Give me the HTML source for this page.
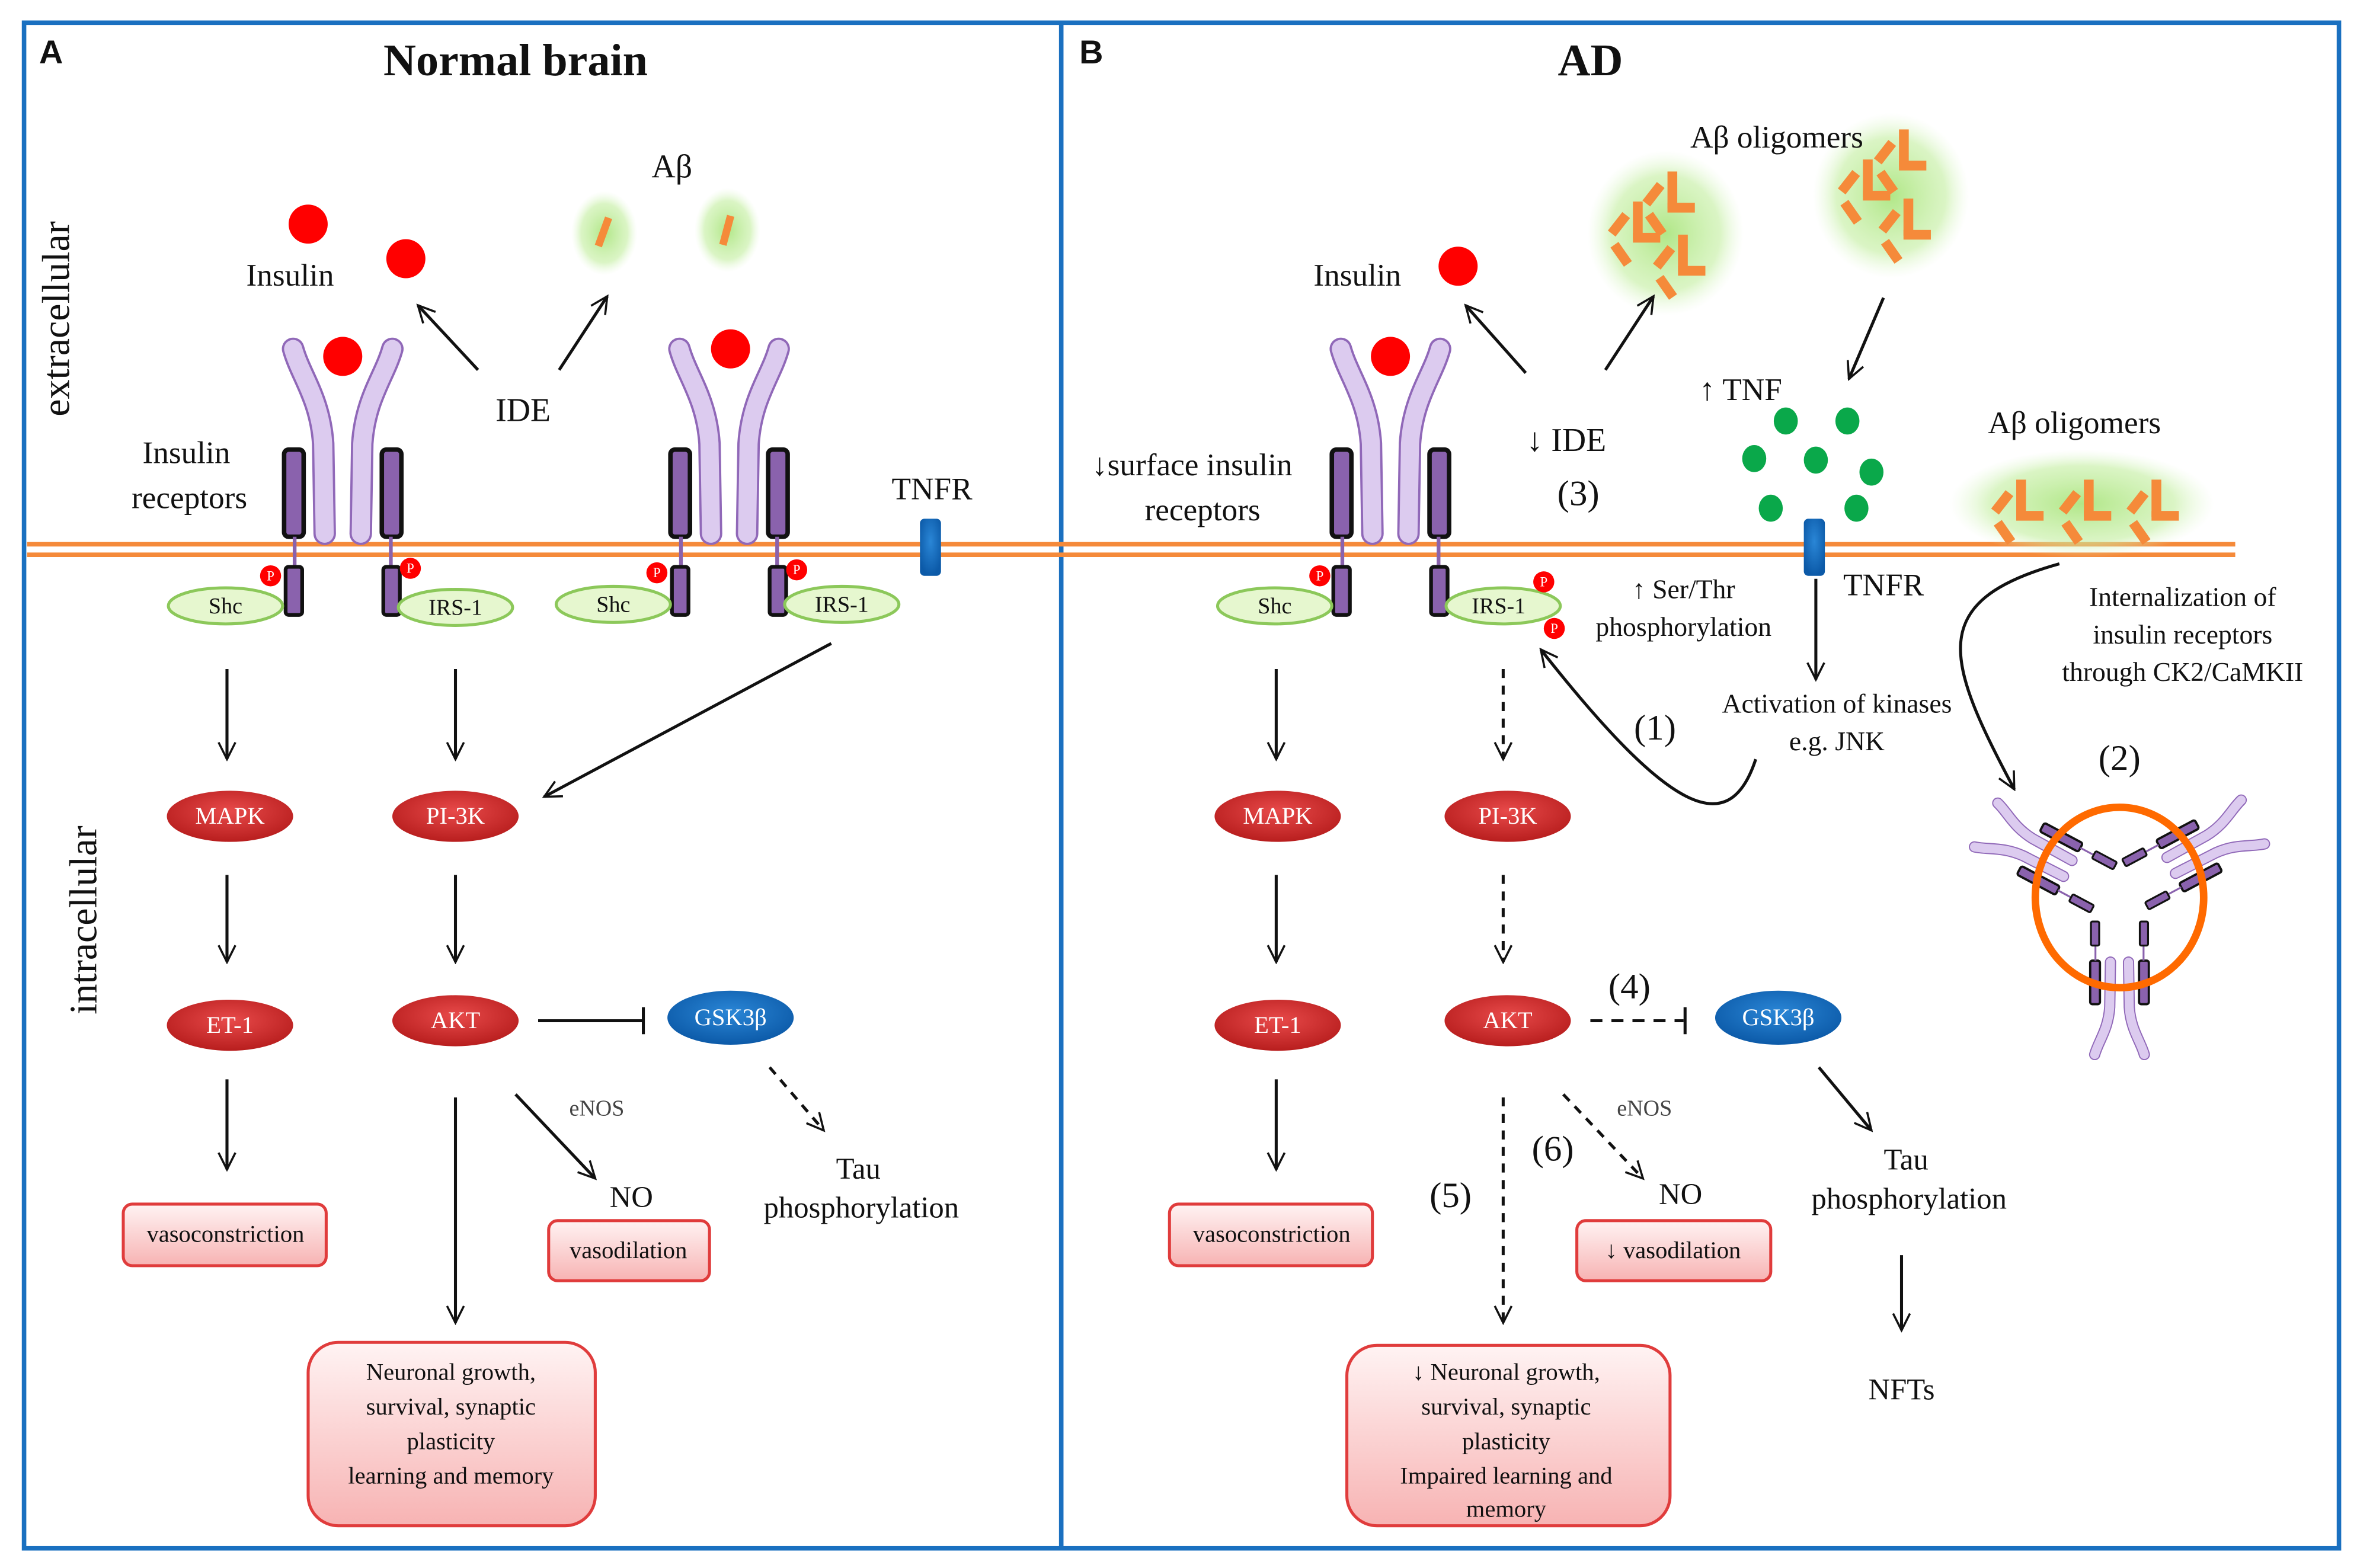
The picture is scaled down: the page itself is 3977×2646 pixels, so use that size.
<!DOCTYPE html>
<html><head><meta charset="utf-8"><style>
html,body{margin:0;padding:0;background:#fff;}
svg{display:block;}
text{font-family:"Liberation Serif","Times New Roman",serif;fill:#111;}
</style></head><body>
<svg width="3977" height="2646" viewBox="0 0 1568 1043" xmlns="http://www.w3.org/2000/svg" font-family="Liberation Serif, serif">
<defs>
<marker id="ah" viewBox="0 0 20 20" refX="18" refY="10" markerWidth="14" markerHeight="14" markerUnits="userSpaceOnUse" orient="auto">
<polyline points="2,2 18,10 2,18" fill="none" stroke="#111" stroke-width="2"/>
</marker>
<radialGradient id="redg" cx="50%" cy="40%" r="60%"><stop offset="0" stop-color="#e84a4a"/><stop offset="1" stop-color="#b81e1e"/></radialGradient>
<radialGradient id="blueg" cx="50%" cy="40%" r="60%"><stop offset="0" stop-color="#2a86d6"/><stop offset="1" stop-color="#0c5aa8"/></radialGradient>
<linearGradient id="boxg" x1="0" y1="0" x2="0" y2="1"><stop offset="0" stop-color="#fff3f3"/><stop offset="1" stop-color="#f7b3b3"/></linearGradient>
<radialGradient id="glow" cx="50%" cy="50%" r="50%"><stop offset="0" stop-color="#a8e47a" stop-opacity="0.9"/><stop offset="0.7" stop-color="#c2ee9e" stop-opacity="0.6"/><stop offset="1" stop-color="#e0f7cf" stop-opacity="0"/></radialGradient>
<g id="rec">
<path d="M-12,-10 L-13,-70 C-15,-100 -28,-115 -33,-133" fill="none" stroke="#9068b8" stroke-width="15" stroke-linecap="round"/>
<path d="M-12,-10 L-13,-70 C-15,-100 -28,-115 -33,-133" fill="none" stroke="#dccbef" stroke-width="12" stroke-linecap="round"/>
<path d="M12,-10 L13,-70 C15,-100 28,-115 33,-133" fill="none" stroke="#9068b8" stroke-width="15" stroke-linecap="round"/>
<path d="M12,-10 L13,-70 C15,-100 28,-115 33,-133" fill="none" stroke="#dccbef" stroke-width="12" stroke-linecap="round"/>
<rect x="-39" y="-66" width="13" height="58" rx="3" fill="#8a62ad" stroke="#111" stroke-width="3"/>
<rect x="26" y="-66" width="13" height="58" rx="3" fill="#8a62ad" stroke="#111" stroke-width="3"/>
<line x1="-32" y1="-8" x2="-32" y2="14" stroke="#8a62ad" stroke-width="2.5"/>
<line x1="32" y1="-8" x2="32" y2="14" stroke="#8a62ad" stroke-width="2.5"/>
<rect x="-38" y="12" width="11" height="32" rx="2" fill="#8a62ad" stroke="#111" stroke-width="2.5"/>
<rect x="27" y="12" width="11" height="32" rx="2" fill="#8a62ad" stroke="#111" stroke-width="2.5"/>
</g>
<g id="olig0" fill="#f58a3a">
<rect x="-2.5" y="-9" width="5" height="12" transform="translate(-8,-6) rotate(38)"/>
<rect x="-2.5" y="-6" width="5" height="12" transform="translate(-5,7) rotate(-35)"/>
<rect x="1" y="-20" width="5" height="19"/>
<rect x="1" y="-4" width="14" height="5"/>
</g>
<use id="olig" href="#olig0" transform="scale(1.3)"/>
</defs>
<rect x="0" y="0" width="1568" height="1043" fill="#fff"/>
<rect x="16" y="15" width="1540" height="1015" fill="none" stroke="#1a70c0" stroke-width="3"/>
<line x1="706" y1="15" x2="706" y2="1030" stroke="#1a70c0" stroke-width="3"/>

<text x="26" y="42" font-weight="bold" font-size="22" style="font-family:'Liberation Sans',sans-serif">A</text>
<text x="718" y="42" font-weight="bold" font-size="22" style="font-family:'Liberation Sans',sans-serif">B</text>
<text x="343" y="50" font-size="30" font-weight="bold" text-anchor="middle">Normal brain</text>
<text x="1058" y="50" font-size="30" font-weight="bold" text-anchor="middle">AD</text>
<text transform="translate(46,212) rotate(-90)" font-size="26" text-anchor="middle">extracellular</text>
<text transform="translate(64,612) rotate(-90)" font-size="26" text-anchor="middle">intracellular</text>

<line x1="18" y1="362" x2="1487" y2="362" stroke="#f58a3a" stroke-width="3"/>
<line x1="18" y1="369" x2="1487" y2="369" stroke="#f58a3a" stroke-width="3"/>

<use href="#rec" x="228" y="365"/>
<use href="#rec" x="485" y="365"/>
<use href="#rec" x="925" y="365"/>

<g fill="#f00">
<circle cx="205" cy="149" r="13"/><circle cx="270" cy="172" r="13"/>
<circle cx="228" cy="237" r="13"/><circle cx="486" cy="232" r="13"/>
<circle cx="970" cy="177" r="13"/><circle cx="925" cy="237" r="13"/>
</g>
<text x="193" y="190" font-size="21" text-anchor="middle">Insulin</text>
<text x="903" y="190" font-size="21" text-anchor="middle">Insulin</text>
<text x="124" y="308" font-size="21" text-anchor="middle">Insulin</text>
<text x="126" y="338" font-size="21" text-anchor="middle">receptors</text>
<text x="348" y="280" font-size="22" text-anchor="middle">IDE</text>
<text x="447" y="118" font-size="22" text-anchor="middle">Aβ</text>
<ellipse cx="402" cy="155" rx="22" ry="28" fill="url(#glow)"/>
<ellipse cx="484" cy="153" rx="22" ry="28" fill="url(#glow)"/>
<rect x="399" y="144" width="5" height="20" fill="#f58a3a" transform="rotate(20 401 154)"/>
<rect x="481" y="143" width="5" height="20" fill="#f58a3a" transform="rotate(15 483 153)"/>
<line x1="318" y1="246" x2="278" y2="203" stroke="#111" stroke-width="2" marker-end="url(#ah)"/>
<line x1="372" y1="246" x2="404" y2="197" stroke="#111" stroke-width="2" marker-end="url(#ah)"/>

<rect x="612" y="345" width="14" height="38" rx="3" fill="url(#blueg)"/>
<text x="620" y="332" font-size="21" text-anchor="middle">TNFR</text>

<g fill="#e6f7cf" stroke="#8cc85a" stroke-width="2">
<ellipse cx="150" cy="403" rx="38" ry="12"/><ellipse cx="303" cy="404" rx="38" ry="12"/>
<ellipse cx="408" cy="402" rx="38" ry="12"/><ellipse cx="560" cy="402" rx="38" ry="12"/>
<ellipse cx="848" cy="403" rx="38" ry="12"/><ellipse cx="1000" cy="403" rx="38" ry="12"/>
</g>
<g font-size="15" text-anchor="middle">
<text x="150" y="408">Shc</text><text x="303" y="409">IRS-1</text>
<text x="408" y="407">Shc</text><text x="560" y="407">IRS-1</text>
<text x="848" y="408">Shc</text><text x="997" y="408">IRS-1</text>
</g>
<g fill="#f00">
<circle cx="180" cy="383" r="7"/><circle cx="273" cy="378" r="7"/><circle cx="437" cy="381" r="7"/><circle cx="530" cy="379" r="7"/>
<circle cx="878" cy="383" r="7"/><circle cx="1027" cy="387" r="7"/><circle cx="1034" cy="418" r="7"/>
</g>
<g font-size="9" text-anchor="middle" style="font-family:'Liberation Sans',sans-serif">
<text x="180" y="386" style="fill:#fff">P</text><text x="273" y="381" style="fill:#fff">P</text><text x="437" y="384" style="fill:#fff">P</text><text x="530" y="382" style="fill:#fff">P</text>
<text x="878" y="386" style="fill:#fff">P</text><text x="1027" y="390" style="fill:#fff">P</text><text x="1034" y="421" style="fill:#fff">P</text>
</g>

<g stroke="#111" stroke-width="2" fill="none">
<line x1="151" y1="445" x2="151" y2="505" marker-end="url(#ah)"/>
<line x1="303" y1="445" x2="303" y2="505" marker-end="url(#ah)"/>
<line x1="553" y1="428" x2="362" y2="530" marker-end="url(#ah)"/>
<line x1="151" y1="582" x2="151" y2="640" marker-end="url(#ah)"/>
<line x1="303" y1="582" x2="303" y2="640" marker-end="url(#ah)"/>
<line x1="151" y1="718" x2="151" y2="778" marker-end="url(#ah)"/>
<line x1="358" y1="679" x2="428" y2="679"/>
<line x1="428" y1="670" x2="428" y2="688"/>
<line x1="303" y1="730" x2="303" y2="880" marker-end="url(#ah)"/>
<line x1="343" y1="728" x2="396" y2="784" marker-end="url(#ah)"/>
<line x1="512" y1="710" x2="548" y2="752" stroke-dasharray="6,5" marker-end="url(#ah)"/>
</g>

<g fill="url(#redg)">
<ellipse cx="153" cy="543" rx="42" ry="17"/><ellipse cx="303" cy="543" rx="42" ry="17"/>
<ellipse cx="153" cy="682" rx="42" ry="17"/><ellipse cx="303" cy="679" rx="42" ry="17"/>
<ellipse cx="850" cy="543" rx="42" ry="17"/><ellipse cx="1003" cy="543" rx="42" ry="17"/>
<ellipse cx="850" cy="682" rx="42" ry="17"/><ellipse cx="1003" cy="679" rx="42" ry="17"/>
</g>
<ellipse cx="486" cy="677" rx="42" ry="18" fill="url(#blueg)"/>
<ellipse cx="1183" cy="677" rx="42" ry="18" fill="url(#blueg)"/>
<g font-size="16" text-anchor="middle">
<text x="153" y="548" style="fill:#fff">MAPK</text><text x="303" y="548" style="fill:#fff">PI-3K</text>
<text x="153" y="687" style="fill:#fff">ET-1</text><text x="303" y="684" style="fill:#fff">AKT</text>
<text x="850" y="548" style="fill:#fff">MAPK</text><text x="1003" y="548" style="fill:#fff">PI-3K</text>
<text x="850" y="687" style="fill:#fff">ET-1</text><text x="1003" y="684" style="fill:#fff">AKT</text>
<text x="486" y="682" style="fill:#fff">GSK3β</text><text x="1183" y="682" style="fill:#fff">GSK3β</text>
</g>

<text x="397" y="742" font-size="15" text-anchor="middle" style="fill:#444">eNOS</text>
<text x="420" y="803" font-size="20" text-anchor="middle">NO</text>
<text x="571" y="784" font-size="20" text-anchor="middle">Tau</text>
<text x="573" y="810" font-size="20" text-anchor="middle">phosphorylation</text>

<g fill="url(#boxg)" stroke="#e03c3c" stroke-width="2">
<rect x="82" y="801" width="135" height="41" rx="6"/>
<rect x="365" y="812" width="107" height="40" rx="6"/>
<rect x="205" y="893" width="191" height="122" rx="20"/>
<rect x="778" y="801" width="135" height="41" rx="6"/>
<rect x="1049" y="812" width="129" height="40" rx="6"/>
<rect x="896" y="895" width="215" height="120" rx="20"/>
</g>
<g font-size="16" text-anchor="middle">
<text x="150" y="826">vasoconstriction</text>
<text x="418" y="837">vasodilation</text>
<text x="300" y="918">Neuronal growth,</text>
<text x="300" y="941">survival, synaptic</text>
<text x="300" y="964">plasticity</text>
<text x="300" y="987">learning and memory</text>
<text x="846" y="826">vasoconstriction</text>
<text x="1113" y="837">↓ vasodilation</text>
<text x="1002" y="918">↓ Neuronal growth,</text>
<text x="1002" y="941">survival, synaptic</text>
<text x="1002" y="964">plasticity</text>
<text x="1002" y="987">Impaired learning and</text>
<text x="1002" y="1009">memory</text>
</g>

<!-- B extracellular -->
<ellipse cx="1108" cy="155" rx="52" ry="55" fill="url(#glow)"/>
<ellipse cx="1258" cy="130" rx="52" ry="55" fill="url(#glow)"/>
<g transform="translate(1085,160)"><use href="#olig"/></g>
<g transform="translate(1108,140)"><use href="#olig"/></g>
<g transform="translate(1115,182)"><use href="#olig"/></g>
<g transform="translate(1238,132)"><use href="#olig"/></g>
<g transform="translate(1262,112)"><use href="#olig"/></g>
<g transform="translate(1265,158)"><use href="#olig"/></g>
<text x="1182" y="98" font-size="21" text-anchor="middle">Aβ oligomers</text>
<line x1="1015" y1="248" x2="975" y2="203" stroke="#111" stroke-width="2" marker-end="url(#ah)"/>
<line x1="1068" y1="246" x2="1100" y2="197" stroke="#111" stroke-width="2" marker-end="url(#ah)"/>
<line x1="1253" y1="198" x2="1230" y2="252" stroke="#111" stroke-width="2" marker-end="url(#ah)"/>
<text x="1042" y="300" font-size="22" text-anchor="middle">↓ IDE</text>
<text x="1050" y="336" font-size="24" text-anchor="middle">(3)</text>
<text x="1158" y="266" font-size="21" text-anchor="middle">↑ TNF</text>
<g fill="#0aa84a">
<ellipse cx="1188" cy="280" rx="8" ry="9"/><ellipse cx="1229" cy="280" rx="8" ry="9"/>
<ellipse cx="1167" cy="305" rx="8" ry="9"/><ellipse cx="1208" cy="306" rx="8" ry="9"/><ellipse cx="1245" cy="314" rx="8" ry="9"/>
<ellipse cx="1178" cy="338" rx="8" ry="9"/><ellipse cx="1235" cy="338" rx="8" ry="9"/>
</g>
<rect x="1200" y="345" width="14" height="38" rx="3" fill="url(#blueg)"/>
<text x="1253" y="396" font-size="21" text-anchor="middle">TNFR</text>
<text x="1380" y="288" font-size="21" text-anchor="middle">Aβ oligomers</text>
<ellipse cx="1385" cy="335" rx="88" ry="36" fill="url(#glow)"/>
<g transform="translate(1340,345)"><use href="#olig"/></g>
<g transform="translate(1385,345)"><use href="#olig"/></g>
<g transform="translate(1430,345)"><use href="#olig"/></g>

<text x="793" y="316" font-size="21" text-anchor="middle">↓surface insulin</text>
<text x="800" y="346" font-size="21" text-anchor="middle">receptors</text>
<text x="1120" y="398" font-size="18" text-anchor="middle">↑ Ser/Thr</text>
<text x="1120" y="423" font-size="18" text-anchor="middle">phosphorylation</text>
<text x="1222" y="474" font-size="18" text-anchor="middle">Activation of kinases</text>
<text x="1222" y="499" font-size="18" text-anchor="middle">e.g. JNK</text>
<text x="1101" y="492" font-size="24" text-anchor="middle">(1)</text>
<text x="1452" y="403" font-size="18" text-anchor="middle">Internalization of</text>
<text x="1452" y="428" font-size="18" text-anchor="middle">insulin receptors</text>
<text x="1452" y="453" font-size="18" text-anchor="middle">through CK2/CaMKII</text>
<text x="1410" y="512" font-size="24" text-anchor="middle">(2)</text>
<text x="1084" y="664" font-size="24" text-anchor="middle">(4)</text>
<text x="1033" y="772" font-size="24" text-anchor="middle">(6)</text>
<text x="965" y="803" font-size="24" text-anchor="middle">(5)</text>
<text x="1094" y="742" font-size="15" text-anchor="middle" style="fill:#444">eNOS</text>
<text x="1118" y="801" font-size="20" text-anchor="middle">NO</text>
<text x="1268" y="778" font-size="20" text-anchor="middle">Tau</text>
<text x="1270" y="804" font-size="20" text-anchor="middle">phosphorylation</text>
<text x="1265" y="931" font-size="20" text-anchor="middle">NFTs</text>

<g stroke="#111" stroke-width="2" fill="none">
<line x1="1208" y1="385" x2="1208" y2="452" marker-end="url(#ah)"/>
<path d="M1168,505 C1150,560 1110,540 1025,432" marker-end="url(#ah)"/>
<path d="M1370,375 C1280,400 1295,440 1340,525" marker-end="url(#ah)"/>
<line x1="849" y1="445" x2="849" y2="505" marker-end="url(#ah)"/>
<line x1="1000" y1="445" x2="1000" y2="505" stroke-dasharray="6,5" marker-end="url(#ah)"/>
<line x1="849" y1="582" x2="849" y2="640" marker-end="url(#ah)"/>
<line x1="1000" y1="582" x2="1000" y2="640" stroke-dasharray="6,5" marker-end="url(#ah)"/>
<line x1="849" y1="718" x2="849" y2="778" marker-end="url(#ah)"/>
<line x1="1058" y1="679" x2="1120" y2="679" stroke-dasharray="8,6"/>
<line x1="1121" y1="670" x2="1121" y2="688"/>
<line x1="1000" y1="730" x2="1000" y2="880" stroke-dasharray="6,5" marker-end="url(#ah)"/>
<line x1="1040" y1="728" x2="1093" y2="784" stroke-dasharray="6,5" marker-end="url(#ah)"/>
<line x1="1210" y1="710" x2="1245" y2="752" marker-end="url(#ah)"/>
<line x1="1265" y1="835" x2="1265" y2="885" marker-end="url(#ah)"/>
</g>

<!-- internalized receptors -->
<g>
<use href="#rec" transform="translate(1380,580) rotate(-62) scale(0.5)"/>
<use href="#rec" transform="translate(1440,578) rotate(62) scale(0.5)"/>
<use href="#rec" transform="translate(1410,635) rotate(180) scale(0.5)"/>
<ellipse cx="1410" cy="597" rx="56" ry="60" fill="none" stroke="#ff6a00" stroke-width="5"/>
</g>
</svg>
</body></html>
